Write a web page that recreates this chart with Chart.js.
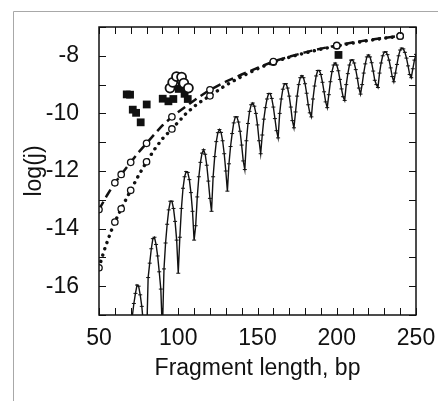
<!DOCTYPE html>
<html>
<head>
<meta charset="utf-8">
<script src="https://cdn.jsdelivr.net/npm/chart.js@4.4.1/dist/chart.umd.min.js"></script>
<style>
    html, body { margin: 0; padding: 0; background: #fff; }
    #wrap { width: 438px; height: 401px; position: relative; }
</style>
</head>
<body>
<div id="wrap"><canvas id="graph01"></canvas></div>
<script>
// tick labels
const xTickLabels = [50, 100, 150, 200, 250];
const yTickLabels = [-16, -14, -12, -10, -8];

// computed log(j), one value per bp starting at 69 bp
const curveStart = 69;
const curveLogJ = [
    -18.5,
    -17.6, -17.05, -16.6, -16.25, -15.96, -16.0, -16.3, -16.7, -17.3, -18.2,
    -17.9, -15.7, -15.2, -14.7, -14.35, -14.3, -14.55, -14.95, -15.5, -16.1,
    -17.6, -15.4, -14.5, -13.85, -13.35, -13.05, -13.05, -13.3, -13.75, -14.4,
    -15.55, -14.3, -13.3, -12.6, -12.2, -12.02, -12.05, -12.3, -12.75, -13.4,
    -14.4, -13.9, -12.9, -12.2, -11.7, -11.38, -11.26, -11.42, -11.8, -12.35,
    -12.95, -13.4, -12.2, -11.5, -10.98, -10.67, -10.56, -10.66, -10.95, -11.4,
    -12.0, -12.7, -11.75, -11.15, -10.7, -10.33, -10.12, -10.12, -10.3, -10.62,
    -11.1, -11.65, -11.95, -10.95, -10.35, -9.93, -9.7, -9.64, -9.75, -10.0,
    -10.4, -10.95, -11.4, -10.75, -10.2, -9.8, -9.5, -9.31, -9.31, -9.48,
    -9.78, -10.18, -10.6, -10.85, -10.0, -9.5, -9.16, -8.97, -8.97, -9.12,
    -9.4, -9.78, -10.25, -10.5, -9.95, -9.4, -9.0, -8.76, -8.69, -8.76,
    -8.97, -9.3, -9.7, -9.98, -10.12, -9.5, -9.05, -8.7, -8.51, -8.51,
    -8.65, -8.92, -9.25, -9.6, -9.8, -9.35, -8.9, -8.55, -8.32, -8.25,
    -8.32, -8.52, -8.82, -9.15, -9.42, -9.55, -9.0, -8.62, -8.32, -8.15,
    -8.14, -8.25, -8.48, -8.78, -9.12, -9.33, -9.0, -8.6, -8.28, -8.04,
    -7.97, -8.04, -8.24, -8.53, -8.85, -9.0, -9.1, -8.6, -8.25, -8.0,
    -7.87, -7.86, -7.96, -8.15, -8.42, -8.72, -8.9, -8.6, -8.3, -8.0,
    -7.8, -7.73, -7.76, -7.88, -8.08, -8.35, -8.65, -8.76, -8.45, -8.15,
    -7.95
];

// dash line (upper model)
const upperLen = [50, 55, 60, 64, 70, 75, 80, 85, 90, 96, 100, 105, 110, 115, 120, 130, 140, 150, 160, 170, 180, 190, 200, 210, 220, 230, 240];
const upperLogJ = [-13.34, -12.85, -12.41, -12.12, -11.70, -11.35, -11.04, -10.72, -10.42, -10.12, -9.95, -9.75, -9.55, -9.36, -9.18, -8.90, -8.65, -8.42, -8.20, -8.03, -7.88, -7.75, -7.64, -7.54, -7.45, -7.38, -7.31];

// dotted line (lower model)
const lowerLen = [50, 52, 54, 56, 58, 60, 64, 70, 75, 80, 85, 90, 96, 100, 105, 110, 115, 120, 130, 140, 150, 160, 170, 180, 190, 200, 210, 220, 230, 240];
const lowerLogJ = [-15.36, -14.98, -14.64, -14.33, -14.04, -13.77, -13.31, -12.67, -12.15, -11.68, -11.25, -10.88, -10.54, -10.30, -10.0, -9.76, -9.56, -9.39, -9.02, -8.72, -8.45, -8.22, -8.05, -7.90, -7.77, -7.66, -7.56, -7.47, -7.39, -7.32];

// lengths where the model lines carry an open circle
const modelCircleLen = [50, 60, 64, 70, 80, 96, 120, 160, 200, 240];

// experiment, filled squares
const squareLen = [67.5, 69.6, 71.3, 73.4, 76.3, 80.1, 90.2, 93.8, 96.9, 100.3, 102.2, 104.0, 106.0, 201.1];
const squareLogJ = [-9.34, -9.35, -9.87, -9.98, -10.31, -9.69, -9.49, -9.58, -9.50, -9.15, -9.05, -9.32, -9.50, -7.97];

// experiment, open circles
const circleLen = [94.8, 96.5, 98.9, 102.1, 103.5, 106.4];
const circleLogJ = [-9.12, -8.92, -8.72, -8.74, -8.95, -9.12];

const FONT = "'Liberation Sans', Arial, Helvetica, sans-serif";
const INK = '#111';

function pts(xs, ys) {
    return xs.map((x, i) => ({ x: x, y: ys[i] }));
}

const curvePts = curveLogJ.map((y, i) => ({ x: curveStart + i, y: y }));

const frame = {
    id: 'frame',
    beforeDraw(chart) {
        const ctx = chart.ctx;
        ctx.save();
        ctx.fillStyle = '#fff';
        ctx.fillRect(0, 0, chart.width, chart.height);
        ctx.strokeStyle = '#a8a8a8';
        ctx.lineWidth = 1;
        ctx.beginPath();
        ctx.moveTo(13.5, chart.height);
        ctx.lineTo(13.5, 11.5);
        ctx.lineTo(chart.width, 11.5);
        ctx.stroke();
        ctx.restore();
    },
    afterDatasetsDraw(chart) {
        const ctx = chart.ctx;
        const a = chart.chartArea;
        const xs = chart.scales.x;
        const ys = chart.scales.y;
        const tl = 7;
        ctx.save();
        ctx.strokeStyle = INK;
        ctx.lineWidth = 1;
        ctx.beginPath();
        for (let v = xs.min; v <= xs.max; v += 10) {
            const px = Math.round(xs.getPixelForValue(v)) + 0.5;
            ctx.moveTo(px, a.bottom); ctx.lineTo(px, a.bottom - tl);
            ctx.moveTo(px, a.top); ctx.lineTo(px, a.top + tl);
        }
        for (let v = ys.min; v <= ys.max; v += 1) {
            const py = Math.round(ys.getPixelForValue(v)) + 0.5;
            ctx.moveTo(a.left, py); ctx.lineTo(a.left + tl, py);
            ctx.moveTo(a.right, py); ctx.lineTo(a.right - tl, py);
        }
        ctx.stroke();
        ctx.lineWidth = 1.5;
        ctx.strokeRect(a.left, a.top, a.right - a.left, a.bottom - a.top);
        ctx.restore();
    }
};

new Chart(document.getElementById('graph01'), {
    type: 'scatter',
    data: {
        datasets: [
            {
                label: 'exp circles',
                data: pts(circleLen, circleLogJ),
                pointRadius: 4.5,
                pointBackgroundColor: '#fff',
                pointBorderColor: INK,
                pointBorderWidth: 1.8
            },
            {
                label: 'exp squares',
                data: pts(squareLen, squareLogJ),
                pointStyle: 'rect',
                pointRadius: 5.5,
                pointBackgroundColor: INK,
                pointBorderColor: INK,
                pointBorderWidth: 0
            },
            {
                label: 'model dash',
                data: pts(upperLen, upperLogJ),
                showLine: true,
                borderColor: INK,
                borderWidth: 2.5,
                borderDash: [9, 5],
                pointRadius: c => modelCircleLen.includes(c.raw.x) ? 3.2 : 0,
                pointBackgroundColor: '#fff',
                pointBorderColor: INK,
                pointBorderWidth: 1.3
            },
            {
                label: 'model dots',
                data: pts(lowerLen, lowerLogJ),
                showLine: true,
                borderColor: INK,
                borderWidth: 3.4,
                borderDash: [0.1, 6.5],
                borderCapStyle: 'round',
                pointRadius: c => modelCircleLen.includes(c.raw.x) ? 3.2 : 0,
                pointBackgroundColor: '#fff',
                pointBorderColor: INK,
                pointBorderWidth: 1.3
            },
            {
                label: 'computed',
                data: curvePts,
                showLine: true,
                borderColor: INK,
                borderWidth: 1.4,
                pointStyle: 'line',
                pointRadius: 2,
                pointBorderColor: INK,
                pointBorderWidth: 1
            }
        ]
    },
    options: {
        responsive: true,
        maintainAspectRatio: false,
        animation: false,
        devicePixelRatio: 1,
        layout: {
            padding: { left: 16, right: 22, top: 27, bottom: 19 }
        },
        plugins: {
            legend: { display: false },
            tooltip: { enabled: false }
        },
        scales: {
            x: {
                type: 'linear',
                min: 50,
                max: 250,
                grid: { display: false },
                border: { display: false },
                afterFit: s => { s.height = 67; },
                ticks: {
                    stepSize: 50,
                    autoSkip: false,
                    maxRotation: 0,
                    padding: 2,
                    color: INK,
                    font: { family: FONT, size: 23 },
                    callback: v => xTickLabels.includes(v) ? String(v) : ''
                },
                title: {
                    display: true,
                    text: 'Fragment length, bp',
                    color: INK,
                    font: { family: FONT, size: 23 },
                    padding: { top: 4, bottom: 0 }
                }
            },
            y: {
                min: -17,
                max: -7,
                grid: { display: false },
                border: { display: false },
                afterFit: s => { s.width = 83; },
                ticks: {
                    stepSize: 1,
                    autoSkip: false,
                    padding: 12,
                    color: INK,
                    font: { family: FONT, size: 23 },
                    callback: v => yTickLabels.includes(v) ? String(v) : ''
                },
                title: {
                    display: true,
                    text: 'log(j)',
                    color: INK,
                    font: { family: FONT, size: 23 },
                    padding: 5
                }
            }
        }
    },
    plugins: [frame]
});
</script>
</body>
</html>
